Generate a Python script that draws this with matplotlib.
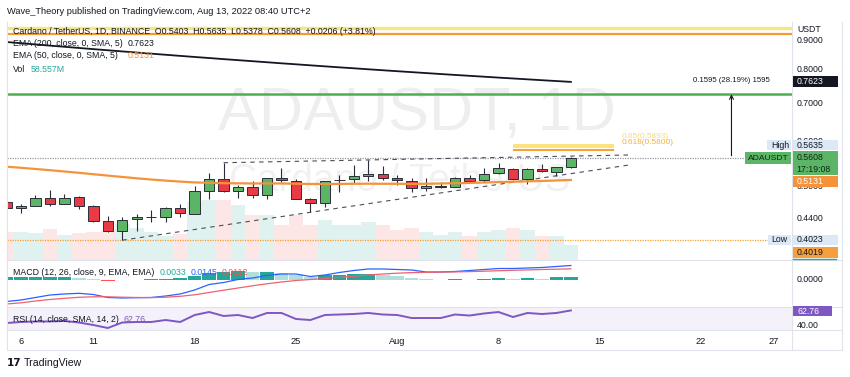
import numpy as np
import pandas as pd
import matplotlib
matplotlib.use('Agg')
import matplotlib.pyplot as plt
from matplotlib import font_manager as fm
from matplotlib.patches import Rectangle
from matplotlib.lines import Line2D
from matplotlib import transforms as mtrans

# ---------------- data ----------------
dates = pd.date_range('2022-07-05', '2022-08-13', freq='D')
opens = [0.4694, 0.4581, 0.4624, 0.4770, 0.4662, 0.4784, 0.4624, 0.4342, 0.4170, 0.4377,
         0.4418, 0.4423, 0.4576, 0.4472, 0.4907, 0.5150, 0.4913, 0.4987, 0.4823, 0.5165,
         0.5109, 0.4751, 0.4675, 0.5123, 0.5145, 0.5213, 0.5256, 0.5165, 0.5115, 0.4967,
         0.4993, 0.4993, 0.5177, 0.5123, 0.5283, 0.5363, 0.5145, 0.5370, 0.5305, 0.5403]
highs = [0.4713, 0.4650, 0.4828, 0.4921, 0.4842, 0.4803, 0.4637, 0.4430, 0.4412, 0.4477,
         0.4539, 0.4594, 0.4656, 0.5007, 0.5270, 0.5501, 0.5028, 0.5109, 0.5170, 0.5378,
         0.5145, 0.4776, 0.5115, 0.5234, 0.5450, 0.5561, 0.5435, 0.5234, 0.5165, 0.5165,
         0.5095, 0.5186, 0.5234, 0.5378, 0.5501, 0.5378, 0.5378, 0.5472, 0.5413, 0.5635]
lows = [0.4563, 0.4484, 0.4620, 0.4613, 0.4650, 0.4558, 0.4325, 0.4165, 0.4023, 0.4180,
        0.4335, 0.4325, 0.4423, 0.4470, 0.4751, 0.4881, 0.4764, 0.4776, 0.4745, 0.5095,
        0.4750, 0.4503, 0.4594, 0.4893, 0.5062, 0.5109, 0.5130, 0.5028, 0.4893, 0.4907,
        0.4961, 0.4981, 0.5095, 0.5083, 0.5249, 0.5130, 0.5048, 0.5305, 0.5220, 0.5378]
closes = [0.4576, 0.4624, 0.4770, 0.4662, 0.4770, 0.4624, 0.4352, 0.4170, 0.4370, 0.4418,
          0.4427, 0.4576, 0.4484, 0.4907, 0.5150, 0.4907, 0.4993, 0.4823, 0.5165, 0.5123,
          0.4756, 0.4681, 0.5103, 0.5136, 0.5213, 0.5262, 0.5165, 0.5123, 0.4967, 0.5001,
          0.5007, 0.5165, 0.5115, 0.5262, 0.5378, 0.5145, 0.5363, 0.5313, 0.5403, 0.5608]
volumes_m = [109, 109, 105, 121, 98, 105, 109, 117, 140, 125,
             109, 94, 101, 226, 234, 234, 215, 176, 176, 137,
             176, 137, 156, 137, 137, 148, 137, 117, 125, 109,
             98, 109, 94, 109, 117, 125, 117, 94, 94, 58.557]
ema200 = [0.8955, 0.8911, 0.8868, 0.8825, 0.8784, 0.8742, 0.8701, 0.8661, 0.8621, 0.8582,
          0.8543, 0.8505, 0.8467, 0.8430, 0.8394, 0.8357, 0.8322, 0.8287, 0.8252, 0.8217,
          0.8184, 0.8150, 0.8117, 0.8084, 0.8053, 0.8021, 0.7990, 0.7959, 0.7929, 0.7899,
          0.7869, 0.7840, 0.7812, 0.7784, 0.7756, 0.7729, 0.7702, 0.7675, 0.7649, 0.7623]
ema50 = [0.5413, 0.5389, 0.5363, 0.5337, 0.5309, 0.5281, 0.5251, 0.5222, 0.5193, 0.5165,
         0.5140, 0.5117, 0.5097, 0.5080, 0.5072, 0.5064, 0.5062, 0.5058, 0.5060, 0.5058,
         0.5054, 0.5048, 0.5048, 0.5050, 0.5052, 0.5054, 0.5052, 0.5052, 0.5050, 0.5052,
         0.5058, 0.5064, 0.5070, 0.5078, 0.5087, 0.5094, 0.5102, 0.5110, 0.5120, 0.5131]
macd = [-0.0215, -0.0200, -0.0175, -0.0150, -0.0140, -0.0133, -0.0145, -0.0175, -0.0180, -0.0177,
        -0.0175, -0.0160, -0.0140, -0.0100, -0.0045, -0.0025, 0.0005, 0.0020, 0.0045, 0.0060,
        0.0060, 0.0035, 0.0050, 0.0075, 0.0095, 0.0110, 0.0110, 0.0105, 0.0100, 0.0080,
        0.0080, 0.0085, 0.0095, 0.0105, 0.0115, 0.0115, 0.0120, 0.0125, 0.0135, 0.0145]
signal = [-0.0240, -0.0228, -0.0210, -0.0195, -0.0183, -0.0173, -0.0168, -0.0168, -0.0172, -0.0175,
          -0.0176, -0.0172, -0.0163, -0.0148, -0.0125, -0.0102, -0.0080, -0.0058, -0.0038, -0.0020,
          -0.0005, 0.0005, 0.0015, 0.0026, 0.0038, 0.0050, 0.0060, 0.0068, 0.0074, 0.0077,
          0.0079, 0.0081, 0.0084, 0.0088, 0.0093, 0.0097, 0.0101, 0.0105, 0.0108, 0.0112]
hist = [0.0026, 0.0028, 0.0030, 0.0032, 0.0034, 0.0025, 0.0015, -0.0008, -0.0002, 0.0005,
        0.0010, 0.0015, 0.0020, 0.0045, 0.0070, 0.0085, 0.0090, 0.0080, 0.0085, 0.0073,
        0.0050, 0.0030, 0.0050, 0.0055, 0.0060, 0.0065, 0.0047, 0.0037, 0.0020, 0.0010,
        0.0005, 0.0010, 0.0005, 0.0015, 0.0020, 0.0007, 0.0020, 0.0010, 0.0027, 0.0033]
rsi = [43.1, 44.7, 45.5, 45.5, 46.3, 43.9, 40.0, 35.3, 43.9, 44.7,
       44.7, 47.8, 44.7, 55.6, 60.3, 54.1, 55.6, 50.9, 58.8, 58.8,
       49.4, 47.8, 55.6, 56.4, 57.2, 58.8, 56.4, 55.6, 50.9, 50.9,
       50.9, 56.4, 54.8, 58.0, 60.3, 52.5, 58.8, 57.2, 58.8, 62.76]

fib_top_levels = [0.9475, 0.9249]
fib_short_levels = [0.5893, 0.5800]
fib_short_dates = ['2022-08-09', '2022-08-16']
resistance = 0.7253
last_close = 0.5608
low_level = 0.4023
upper_trend_dates = ['2022-07-20', '2022-08-17']
upper_trend_vals = [0.5501, 0.5675]
lower_trend_dates = ['2022-07-13', '2022-08-17']
lower_trend_vals = [0.4023, 0.5449]
measure_date = '2022-08-24'
measure_from, measure_to = 0.5658, 0.7253
price_ticks = [0.9, 0.8, 0.7, 0.44]
hidden_price_ticks = [0.6, 0.5]
time_tick_dates = ['2022-07-06', '2022-07-11', '2022-07-18', '2022-07-25', '2022-08-01',
                   '2022-08-08', '2022-08-15', '2022-08-22', '2022-08-27']
time_tick_labels = ['6', '11', '18', '25', 'Aug', '8', '15', '22', '27']

# ---------------- setup ----------------
W, H = 850, 377
names = {f.name for f in fm.fontManager.ttflist}
NARROW = 'Liberation Sans Narrow' in names
FONT = 'Liberation Sans Narrow' if NARROW else 'Liberation Sans'
S = 1.0 if NARROW else 0.9
plt.rcParams['font.family'] = [FONT, 'DejaVu Sans']
TXT = '#131722'

fig = plt.figure(figsize=(W / 100, H / 100), dpi=100)
fig.patch.set_facecolor('white')

REF = pd.Timestamp('2022-07-06')
def dx(d):
    return (pd.Timestamp(d) - REF).days
x = np.array([(d - REF).days for d in dates])
XL = ((7 - 21) / 14.47, (792 - 21) / 14.47)

def rect(x0, y0, x1, y1):
    return [x0 / W, 1 - y1 / H, (x1 - x0) / W, (y1 - y0) / H]

def ftext(px, py, s, **kw):
    return fig.text(px / W, 1 - py / H, s, **kw)

def fbox(x0, y0, x1, y1, color):
    fig.patches.append(Rectangle((x0 / W, 1 - y1 / H), (x1 - x0) / W, (y1 - y0) / H,
                                 transform=fig.transFigure, facecolor=color, edgecolor='none',
                                 zorder=5))

up = [c >= o for o, c in zip(opens, closes)]

# ---------------- volume (behind) ----------------
axv = fig.add_axes(rect(7, 22, 792, 260))
axv.set_xlim(XL)
axv.set_ylim(0, 928)
axv.set_axis_off()
axv.bar(x, volumes_m, width=1.0,
        color=['#26a69a' if u else '#ef5350' for u in up], alpha=0.14, linewidth=0)
axv.text(417 / W, 1 - 130 / H, 'ADAUSDT, 1D', transform=fig.transFigure, ha='center',
         va='baseline', fontsize=49 * S, color='#000000', alpha=0.065)
axv.text(400 / W, 1 - 191 / H, 'Cardano / TetherUS', transform=fig.transFigure, ha='center',
         va='baseline', fontsize=31 * S, color='#000000', alpha=0.055)

# ---------------- main price pane ----------------
ax = fig.add_axes(rect(7, 22, 792, 260))
ax.set_yscale('log')
ax.set_ylim(0.3714, 0.9708)
ax.set_xlim(XL)
ax.set_axis_off()

ax.axhline(fib_top_levels[0], color='#f9e47f', lw=2.4, zorder=1)
ax.axhline(fib_top_levels[1], color='#f39a34', lw=1.6, zorder=1)
ax.axhline(resistance, color='#4caf50', lw=1.8, zorder=1)
ax.axhline(last_close, color='#9598a1', lw=0.9, ls=(0, (1, 1)), zorder=1)
ax.axhline(low_level, color='#f5a03c', lw=0.9, ls=(0, (1, 1)), zorder=1)
ax.hlines(fib_short_levels[0], dx(fib_short_dates[0]), dx(fib_short_dates[1]),
          color='#fbe27a', lw=2.8, zorder=2)
ax.hlines(fib_short_levels[1], dx(fib_short_dates[0]), dx(fib_short_dates[1]),
          color='#f5a431', lw=1.5, zorder=2)

ax.plot([dx(d) for d in upper_trend_dates], upper_trend_vals, color='#4a4e59', lw=0.8,
        dashes=(4, 4), zorder=2)
ax.plot([dx(d) for d in lower_trend_dates], lower_trend_vals, color='#4a4e59', lw=0.8,
        dashes=(4, 4), zorder=2)

ax.plot(x, ema200, color='#131722', lw=1.3, zorder=5)
ax.plot(x, ema50, color='#f5933a', lw=1.6, zorder=5)

ax.vlines(x, lows, highs, color='#2a2e39', lw=0.8, zorder=3)
ax.bar(x, [abs(c - o) for o, c in zip(opens, closes)],
       bottom=[min(o, c) for o, c in zip(opens, closes)], width=0.72,
       color=['#5cb567' if u else '#ea3a45' for u in up], edgecolor='#2a2e39',
       linewidth=0.7, zorder=4)

md = dx(measure_date) + 0.1
ax.annotate('', xy=(md, measure_to), xytext=(md, measure_from),
            arrowprops=dict(arrowstyle='->', color='#131722', lw=0.8,
                            shrinkA=0, shrinkB=0, mutation_scale=7), zorder=6)
ax.text(md, 0.768, '0.1595 (28.19%) 1595', ha='center', va='center',
        fontsize=6.2 * S, color=TXT, zorder=6)

ftext(622, 137, '0.65(0.5893)', fontsize=6.6 * S, color='#f8dc74', va='center')
ftext(622, 142.5, '0.618(0.5800)', fontsize=6.6 * S, color='#f2b13f', va='center')

# ---------------- MACD pane ----------------
axm = fig.add_axes(rect(7, 260, 792, 307))
axm.set_xlim(XL)
axm.set_ylim(-0.027, 0.020)
axm.set_axis_off()
hcol = []
for i, h in enumerate(hist):
    prev = hist[i - 1] if i > 0 else h - 1
    if h >= 0:
        hcol.append('#26a69a' if h >= prev else '#b2dfdb')
    else:
        hcol.append('#ffcdd2' if h > prev else '#ff5252')
axm.bar(x, hist, width=0.94, color=hcol, linewidth=0)
axm.plot(x, macd, color='#2962ff', lw=0.9)
axm.plot(x, signal, color='#f0616d', lw=0.9)

# ---------------- RSI pane ----------------
axr = fig.add_axes(rect(7, 307, 792, 330))
axr.set_xlim(XL)
axr.set_ylim(32.19, 68.13)
axr.set_axis_off()
axr.axhspan(30, 70, xmin=0, xmax=1, color='#7e57c2', alpha=0.08, lw=0)
axr.plot(x, rsi, color='#7e57c2', lw=1.4)

# ---------------- frame lines ----------------
GR = '#e0e3eb'
for yy in (260, 307, 330, 350):
    fig.add_artist(Line2D([7 / W, 842 / W], [1 - yy / H, 1 - yy / H], color=GR, lw=0.8))
for xx in (7, 792, 842):
    fig.add_artist(Line2D([xx / W, xx / W], [1 - 22 / H, 1 - 350 / H], color=GR, lw=0.8))

# ---------------- price axis ----------------
tr = mtrans.blended_transform_factory(fig.transFigure, ax.transData)
for p in price_ticks:
    ax.text(797 / W, p, f'{p:.4f}', transform=tr, fontsize=7 * S, color=TXT,
            va='center', ha='left', clip_on=False)
# ticks mostly hidden behind the High / EMA50 labels: only a sliver shows
clip_regions = {0.6: (128, 140), 0.5: (187, 192)}
for p in hidden_price_ticks:
    t = ax.text(797 / W, p, f'{p:.4f}', transform=tr, fontsize=7 * S, color=TXT,
                va='center', ha='left')
    y0, y1 = clip_regions[p]
    cb = mtrans.TransformedBbox(mtrans.Bbox([[790 / W, 1 - y1 / H], [845 / W, 1 - y0 / H]]),
                                fig.transFigure)
    t.set_clip_box(cb)
    t.set_clip_on(True)

fbox(793, 23, 840, 37, 'white')
ftext(797, 30, 'USDT', fontsize=7 * S, color=TXT, va='center', zorder=6)

fbox(793, 76, 838, 87, '#131722')
ftext(797, 81.5, '0.7623', fontsize=7 * S, color='white', va='center', zorder=6)

fbox(767, 140, 791, 150, '#dde8f7')
ftext(771, 145, 'High', fontsize=7 * S, color=TXT, va='center', zorder=6)
fbox(793, 140, 838, 150, '#dde8f7')
ftext(797, 145, '0.5635', fontsize=7 * S, color=TXT, va='center', zorder=6)

fbox(745, 152, 791, 164, '#5cb567')
ftext(748, 158, 'ADAUSDT', fontsize=6.8 * S, color='#10261a', va='center', zorder=6)
fbox(793, 151, 838, 175, '#5cb567')
ftext(797, 157.5, '0.5608', fontsize=7 * S, color='#10261a', va='center', zorder=6)
ftext(796, 169, '17:19:08', fontsize=7 * S, color='#10261a', va='center', zorder=6)

fbox(793, 176, 838, 187, '#f5933a')
ftext(797, 181.5, '0.5131', fontsize=7 * S, color='white', va='center', zorder=6)

fbox(768, 235, 791, 245, '#dde8f7')
ftext(771, 240, 'Low', fontsize=7 * S, color=TXT, va='center', zorder=6)
fbox(793, 235, 838, 245, '#dde8f7')
ftext(797, 240, '0.4023', fontsize=7 * S, color=TXT, va='center', zorder=6)

fbox(793, 247, 838, 258, '#f5a03c')
ftext(797, 252.5, '0.4019', fontsize=7 * S, color=TXT, va='center', zorder=6)
fig.add_artist(Line2D([793 / W, 836 / W], [1 - 259 / H, 1 - 259 / H], color='#26a69a', lw=1))

ftext(797, 280, '0.0000', fontsize=7 * S, color=TXT, va='center')
fbox(793, 306, 832, 316, '#7e57c2')
ftext(797, 311, '62.76', fontsize=7 * S, color='white', va='center', zorder=6)
ftext(797, 325, '40.00', fontsize=7 * S, color=TXT, va='center')

# ---------------- time axis ----------------
trx = mtrans.blended_transform_factory(axr.transData, fig.transFigure)
for d, lab in zip(time_tick_dates, time_tick_labels):
    axr.text(dx(d), 1 - 341 / H, lab, transform=trx, ha='center', va='center',
             fontsize=7.4 * S, color=TXT, clip_on=False)

# ---------------- legends / header ----------------
ftext(7, 11, 'Wave_Theory published on TradingView.com, Aug 13, 2022 08:40 UTC+2',
      fontsize=7.4 * S, color=TXT, va='center')
ftext(13, 31, 'Cardano / TetherUS, 1D, BINANCE  O0.5403  H0.5635  L0.5378  C0.5608  +0.0206 (+3.81%)',
      fontsize=7 * S, color=TXT, va='center')
ftext(13, 44, 'EMA (200, close, 0, SMA, 5)', fontsize=7 * S, color=TXT, va='center')
ftext(128, 44, '0.7623', fontsize=7 * S, color=TXT, va='center')
ftext(13, 56, 'EMA (50, close, 0, SMA, 5)', fontsize=7 * S, color=TXT, va='center')
ftext(128, 56, '0.5131', fontsize=7 * S, color='#f5933a', va='center')
ftext(13, 69, 'Vol', fontsize=7 * S, color=TXT, va='center')
ftext(31, 69, '58.557M', fontsize=7 * S, color='#26a69a', va='center')

ftext(13, 272.5, 'MACD (12, 26, close, 9, EMA, EMA)', fontsize=7 * S, color=TXT, va='center')
ftext(160, 272.5, '0.0033', fontsize=7 * S, color='#26a69a', va='center')
ftext(191, 272.5, '0.0145', fontsize=7 * S, color='#2962ff', va='center')
ftext(222, 272.5, '0.0112', fontsize=7 * S, color='#ef5350', va='center')
ftext(13, 320, 'RSI (14, close, SMA, 14, 2)', fontsize=7 * S, color=TXT, va='center')
ftext(124, 320, '62.76', fontsize=7 * S, color='#7e57c2', va='center')

ftext(7, 363, '17', fontsize=7.5, color=TXT, va='center', fontweight='bold',
      family=['DejaVu Sans'])
ftext(24, 363, 'TradingView', fontsize=8.4 * S, color=TXT, va='center')

fig.savefig('out.png', dpi=100, facecolor='white')
